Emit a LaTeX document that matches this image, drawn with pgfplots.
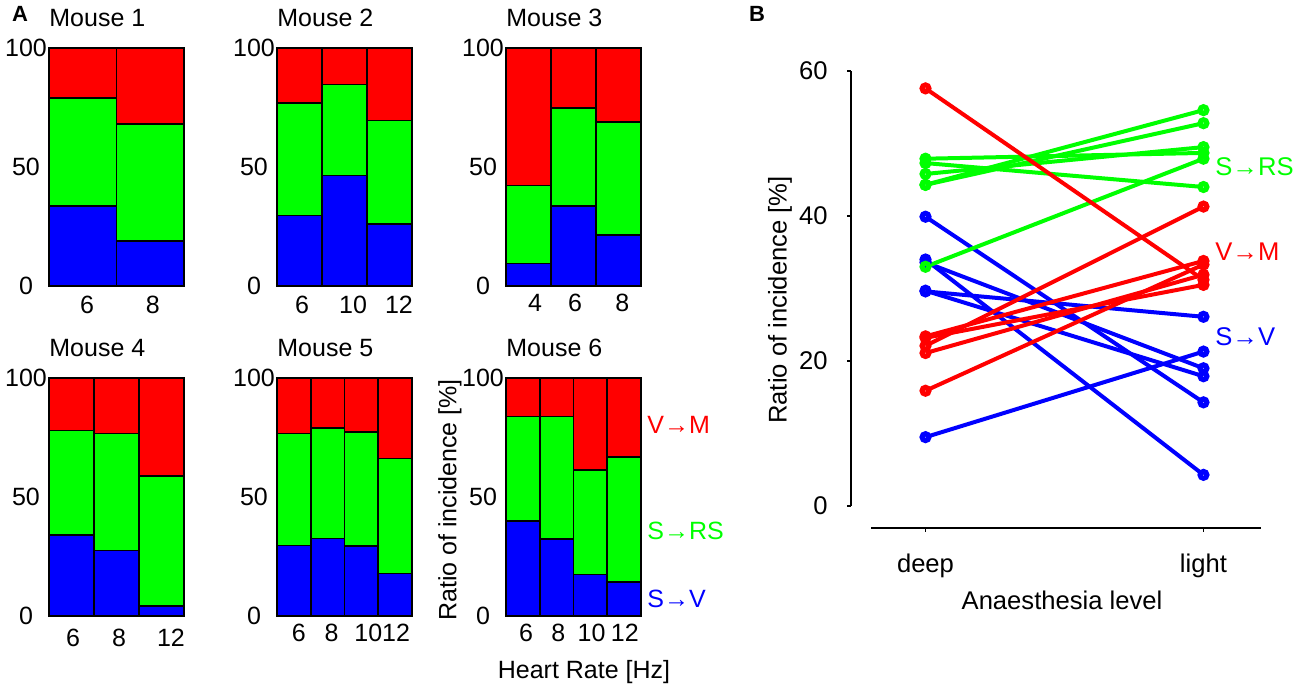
\documentclass[border=0pt]{standalone}
\usepackage{fontspec}
\setmainfont{Liberation Sans}
\usepackage{pgfplots}
\pgfplotsset{compat=1.18}
\newcommand\fA{\fontsize{12.5bp}{15bp}\selectfont}
\newcommand\fB{\fontsize{12.8bp}{15bp}\selectfont}
\tikzset{
  mtitle/.style={anchor=base west, inner sep=0pt, yshift=10.5bp, font=\fA},
  bline/.style={mark=o, line width=2bp, mark size=1.75bp, mark options={solid, line width=2.5bp}},
}
\pgfplotsset{
  mousebar/.style={
    scale only axis, width=67.5bp, height=119bp, anchor=south west,
    ybar stacked, bar width=1, xmin=0, xmax=#1, ymin=0, ymax=100,
    ytick={0,50,100}, major tick length=0pt,
    tick label style={font=\fA},
    yticklabel style={anchor=center, xshift=-11.5bp},
    xticklabel style={anchor=center, yshift=-9.5bp},
    axis line style={line width=0.8bp},
    every axis plot/.append style={draw=black, line width=0.8bp},
    clip=false,
    /pgf/number format/assume math mode=true,
  },
}
\begin{document}
\begin{tikzpicture}
\path[use as bounding box] (0,0) rectangle (650bp,346.5bp);

% ---------- Mouse 1
\begin{axis}[mousebar=2, at={(24.5bp,203.5bp)}, xtick={0.563,1.54}, xticklabels={6,8}]
\addplot[fill=blue] coordinates {(0.5,33.6) (1.5,19.0)};
\addplot[fill=green] coordinates {(0.5,45.3) (1.5,49.1)};
\addplot[fill=red] coordinates {(0.5,21.1) (1.5,31.9)};
\node[mtitle] at (rel axis cs:0,1) {Mouse 1};
\end{axis}
% ---------- Mouse 2
\begin{axis}[mousebar=3, at={(138.5bp,203.5bp)}, xtick={0.556,1.689,2.711}, xticklabels={6,10,12}]
\addplot[fill=blue] coordinates {(0.5,29.6) (1.5,46.4) (2.5,26.1)};
\addplot[fill=green] coordinates {(0.5,47.2) (1.5,38.2) (2.5,43.4)};
\addplot[fill=red] coordinates {(0.5,23.2) (1.5,15.4) (2.5,30.5)};
\node[mtitle] at (rel axis cs:0,1) {Mouse 2};
\end{axis}
% ---------- Mouse 3
\begin{axis}[mousebar=3, at={(253bp,203.5bp)}, xtick={0.644,1.533,2.585}, xticklabels={4,6,8}, xticklabel style={yshift=1bp}]
\addplot[fill=blue] coordinates {(0.5,9.5) (1.5,33.6) (2.5,21.3)};
\addplot[fill=green] coordinates {(0.5,32.8) (1.5,41.3) (2.5,47.5)};
\addplot[fill=red] coordinates {(0.5,57.7) (1.5,25.1) (2.5,31.2)};
\node[mtitle] at (rel axis cs:0,1) {Mouse 3};
\end{axis}
% ---------- Mouse 4
\begin{axis}[mousebar=3, at={(24.5bp,38.5bp)}, xtick={0.533,1.556,2.711}, xticklabels={6,8,12}, xticklabel style={yshift=-1.5bp}]
\addplot[fill=blue] coordinates {(0.5,34.0) (1.5,27.6) (2.5,4.3)};
\addplot[fill=green] coordinates {(0.5,43.9) (1.5,49.0) (2.5,54.4)};
\addplot[fill=red] coordinates {(0.5,22.1) (1.5,23.4) (2.5,41.3)};
\node[mtitle] at (rel axis cs:0,1) {Mouse 4};
\end{axis}
% ---------- Mouse 5
\begin{axis}[mousebar=4, at={(138.5bp,38.5bp)}, xtick={0.647,1.618,2.706,3.529}, xticklabels={6,8,10,12}, xticklabel style={yshift=1bp}]
\addplot[fill=blue] coordinates {(0.5,29.7) (1.5,32.6) (2.5,29.3) (3.5,17.9)};
\addplot[fill=green] coordinates {(0.5,46.9) (1.5,46.4) (2.5,47.9) (3.5,48.3)};
\addplot[fill=red] coordinates {(0.5,23.4) (1.5,21.0) (2.5,22.8) (3.5,33.8)};
\node[mtitle] at (rel axis cs:0,1) {Mouse 5};
\end{axis}
% ---------- Mouse 6
\begin{axis}[mousebar=4, at={(253bp,38.5bp)}, xtick={0.597,1.552,2.537,3.522}, xticklabels={6,8,10,12}, xticklabel style={yshift=1bp}]
\addplot[fill=blue] coordinates {(0.5,39.9) (1.5,32.4) (2.5,17.4) (3.5,14.3)};
\addplot[fill=green] coordinates {(0.5,43.9) (1.5,51.4) (2.5,43.9) (3.5,52.4)};
\addplot[fill=red] coordinates {(0.5,16.2) (1.5,16.2) (2.5,38.7) (3.5,33.3)};
\node[mtitle] at (rel axis cs:0,1) {Mouse 6};
\end{axis}

% panel A labels
\node[font=\fA, rotate=90] at (225bp,96.5bp) {Ratio of incidence [\%]};
\node[font=\fA] at (292bp,10.5bp) {Heart Rate [Hz]};
\node[font=\fA, text=red, anchor=west, inner sep=0pt] at (323.5bp,134bp) {V→M};
\node[font=\fA, text=green, anchor=west, inner sep=0pt] at (323.5bp,81bp) {S→RS};
\node[font=\fA, text=blue, anchor=west, inner sep=0pt] at (323.5bp,47bp) {S→V};
\node[font=\fontsize{11bp}{13bp}\selectfont\bfseries] at (10bp,339.3bp) {A};
\node[font=\fontsize{11bp}{13bp}\selectfont\bfseries] at (378.5bp,339.3bp) {B};

% ---------- Panel B
\begin{axis}[scale only axis, width=205bp, height=228.5bp, at={(425.5bp,82.5bp)}, anchor=south west,
  xmin=0.732, xmax=2.207, ymin=-3.03, ymax=60,
  axis lines=left, axis line style={draw=none},
  tick align=outside, major tick length=2bp, tick style={black, line width=0.6bp},
  ytick={0,20,40,60}, xtick={1,2}, xticklabels={deep,light},
  tick label style={font=\fB},
  yticklabel style={anchor=east, inner sep=0pt, xshift=-9.5bp},
  xticklabel style={anchor=center, yshift=-17bp},
  minor tick num=0, clip=false,
  /pgf/number format/assume math mode=true]
% S->V
\addplot[blue, bline] coordinates {(1,33.6) (2,19.0)};
\addplot[blue, bline] coordinates {(1,29.6) (2,26.1)};
\addplot[blue, bline] coordinates {(1,9.5) (2,21.3)};
\addplot[blue, bline] coordinates {(1,34.0) (2,4.3)};
\addplot[blue, bline] coordinates {(1,29.7) (2,17.9)};
\addplot[blue, bline] coordinates {(1,39.9) (2,14.3)};
% S->RS
\addplot[green, bline] coordinates {(1,45.8) (2,49.5)};
\addplot[green, bline] coordinates {(1,47.3) (2,44.0)};
\addplot[green, bline] coordinates {(1,33.0) (2,47.9)};
\addplot[green, bline] coordinates {(1,44.3) (2,54.6)};
\addplot[green, bline] coordinates {(1,47.9) (2,48.7)};
\addplot[green, bline] coordinates {(1,44.3) (2,52.8)};
% V->M
\addplot[red, bline] coordinates {(1,21.1) (2,31.9)};
\addplot[red, bline] coordinates {(1,23.2) (2,30.5)};
\addplot[red, bline] coordinates {(1,57.6) (2,31.2)};
\addplot[red, bline] coordinates {(1,22.1) (2,41.3)};
\addplot[red, bline] coordinates {(1,23.4) (2,33.8)};
\addplot[red, bline] coordinates {(1,15.9) (2,33.3)};
\draw[black, line width=0.6bp] (axis cs:0.732,0) -- (axis cs:0.732,60);
\draw[black, line width=0.6bp] (axis cs:0.804,-3.03) -- (axis cs:2.207,-3.03);
\end{axis}
\node[font=\fB, rotate=90] at (390bp,196.5bp) {Ratio of incidence [\%]};
\node[font=\fB] at (531bp,46.5bp) {Anaesthesia level};
\node[font=\fB, text=green, anchor=west, inner sep=0pt] at (607.5bp,263bp) {S→RS};
\node[font=\fB, text=red, anchor=west, inner sep=0pt] at (607.5bp,220.5bp) {V→M};
\node[font=\fB, text=blue, anchor=west, inner sep=0pt] at (607.5bp,178bp) {S→V};
\end{tikzpicture}
\end{document}
